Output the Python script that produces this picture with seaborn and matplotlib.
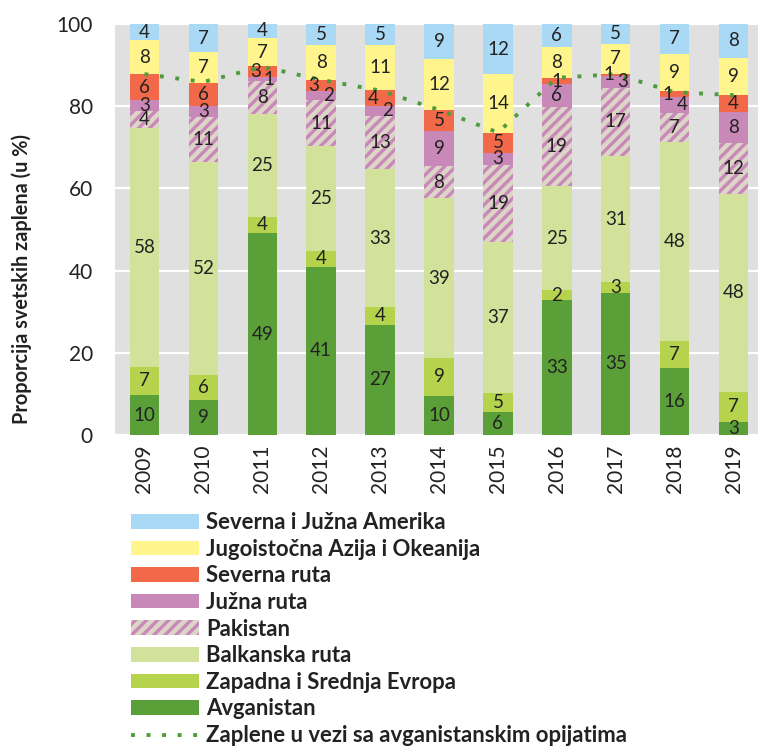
import numpy as np
import matplotlib
matplotlib.use("Agg")
import matplotlib.pyplot as plt
import seaborn as sns
from matplotlib.patches import Patch
from matplotlib.lines import Line2D

# podaci (procenti svetskih zaplena po regionima)
years = ["2009", "2010", "2011", "2012", "2013", "2014", "2015", "2016", "2017", "2018", "2019"]
avganistan = [9.7, 8.6, 49.1, 40.9, 26.8, 9.6, 5.6, 32.8, 34.6, 16.2, 3.2]
zapadna = [6.9, 6.0, 4.0, 3.9, 4.4, 9.1, 4.7, 2.4, 2.6, 6.7, 7.3]
balkanska = [58.0, 51.8, 24.9, 25.4, 33.4, 38.9, 36.7, 25.4, 30.7, 48.4, 48.1]
pakistan = [4.2, 11.0, 8.1, 11.3, 13.1, 7.8, 18.7, 19.1, 16.6, 7.1, 12.4]
juzna = [2.7, 2.6, 1.0, 2.2, 2.3, 8.6, 3.0, 5.7, 2.8, 3.9, 7.7]
severna = [6.3, 5.7, 2.6, 2.7, 3.9, 5.1, 4.9, 1.4, 0.6, 1.3, 4.0]
azija = [8.3, 7.4, 6.8, 8.4, 10.9, 12.4, 14.2, 7.6, 7.3, 9.2, 9.1]
amerika = [3.9, 6.9, 3.6, 5.1, 5.3, 8.6, 12.2, 5.6, 4.9, 7.4, 8.2]
zaplene = [87.8, 85.9, 89.6, 86.4, 83.8, 79.1, 73.6, 86.9, 87.8, 83.4, 82.7]

series = [
    ("Avganistan", avganistan, "#5b9f38"),
    ("Zapadna i Srednja Evropa", zapadna, "#b5d34c"),
    ("Balkanska ruta", balkanska, "#d2e29b"),
    ("Pakistan", pakistan, "#dcd5c8"),
    ("Južna ruta", juzna, "#c889b8"),
    ("Severna ruta", severna, "#f2694a"),
    ("Jugoistočna Azija i Okeanija", azija, "#fff58c"),
    ("Severna i Južna Amerika", amerika, "#a9d9f4"),
]
hatch_color = "#c889b8"
line_color = "#4f9a3c"

sns.set_style("white")
plt.rcParams["font.family"] = ["Lato", "DejaVu Sans"]
plt.rcParams["hatch.color"] = hatch_color
plt.rcParams["hatch.linewidth"] = 2.4

fig = plt.figure(figsize=(7.58, 7.5), dpi=100)
ax = fig.add_axes([115 / 758, 315 / 750, 648 / 758, 411 / 750])
ax.set_facecolor("#e0e0e0")

bottom = np.zeros(len(years))
for name, vals, col in series:
    kw = dict(color=col, edgecolor=col, linewidth=0)
    if name == "Pakistan":
        kw = dict(color=col, edgecolor=hatch_color, linewidth=0, hatch="///")
    sns.barplot(x=years, y=vals, bottom=bottom, width=0.5, saturation=1,
                errorbar=None, ax=ax, zorder=2, **kw)
    vals = np.array(vals)
    # male vrednosti severne/juzne rute razmaknute levo-desno kao u originalu
    small = (np.array(severna) < 4.5) & (np.array(juzna) < 4.5)
    for i, v in enumerate(vals):
        dx = 0
        if name == "Severna ruta" and small[i]:
            dx = -0.12
        if name == "Južna ruta" and small[i]:
            dx = 0.12
        ax.text(i + dx, bottom[i] + v / 2, f"{v:.0f}", ha="center", va="center",
                fontsize=13.5, color="#222222", zorder=4)
    bottom = bottom + vals

sns.lineplot(x=np.arange(len(years)), y=zaplene, ax=ax, color=line_color,
             linewidth=2.8, linestyle=(0, (1, 3)), zorder=3)
ax.lines[-1].set_dash_capstyle("butt")

ax.set_ylim(0, 100)
ax.set_xlim(-0.5, 10.5)
ax.set_yticks([0, 20, 40, 60, 80, 100])
ax.yaxis.grid(True, color="white", linewidth=1.6, zorder=1)
ax.set_axisbelow(True)
for s in ax.spines.values():
    s.set_visible(False)
ax.tick_params(axis="y", length=0, pad=16, labelsize=15, labelcolor="#222222")
ax.tick_params(axis="x", length=0, pad=7, labelsize=15, labelcolor="#222222",
               labelrotation=90)
ax.set_xlabel("")
ax.set_ylabel("Proporcija svetskih zaplena (u %)", fontsize=14.3, fontweight="bold",
              color="#222222")
ax.yaxis.set_label_coords(-0.128, 0.38)

handles = [Patch(facecolor=c, edgecolor=c, linewidth=0) for _, _, c in series]
handles[3] = Patch(facecolor="#dcd5c8", edgecolor=hatch_color, linewidth=0, hatch="///")
labels = [n for n, _, _ in series]
handles = handles[::-1] + [Line2D([0], [0], color=line_color, linewidth=2.8,
                                  linestyle=(0, (1, 3)), dash_capstyle="butt")]
labels = labels[::-1] + ["Zaplene u vezi sa avganistanskim opijatima"]
leg = fig.legend(handles, labels, loc="upper left", bbox_to_anchor=(131 / 758, 1 - 512 / 750),
                 frameon=False, borderpad=0, borderaxespad=0, handlelength=3.08,
                 handleheight=0.64, handletextpad=0.32, labelspacing=0.255,
                 prop={"size": 15.9, "weight": "bold"})
for t in leg.get_texts():
    t.set_color("#222222")

fig.savefig("out.png", dpi=100)
